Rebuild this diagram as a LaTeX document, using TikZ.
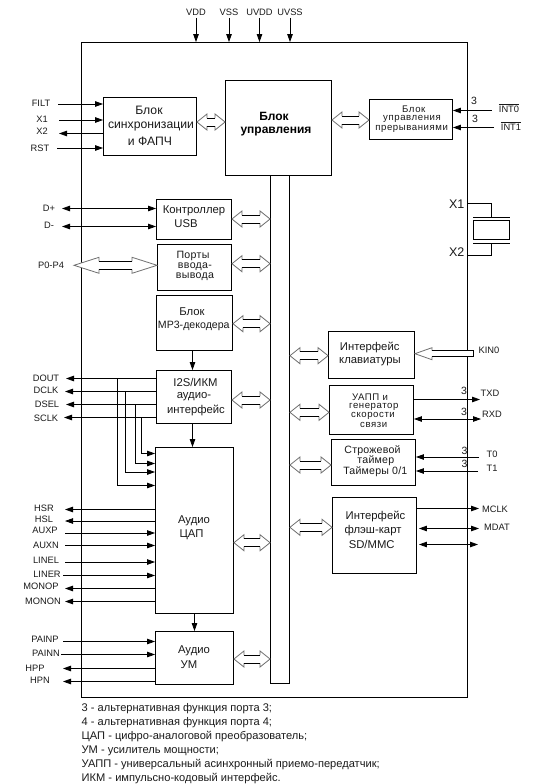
\documentclass[tikz,border=0pt]{standalone}
\usepackage{fontspec}
\setmainfont{Liberation Sans}
\usetikzlibrary{arrows.meta,calc}
\definecolor{ink}{HTML}{1A1A1A}
\definecolor{wedge}{HTML}{707070}
\tikzset{
  boxed/.style={draw=black,line width=0.9pt,fill=white,inner sep=0pt},
  arr/.style={line width=0.8pt,-{Triangle[length=8pt,width=5.5pt]}},
  darr/.style={line width=0.8pt,{Triangle[length=8pt,width=5.5pt]}-{Triangle[length=8pt,width=5.5pt]}},
  wire/.style={line width=0.9pt},
  pinlbl/.style={text=ink,inner sep=0pt,font=\fontsize{9.3}{11}\selectfont},
  blocktxt/.style={text=ink,inner sep=0pt,font=\fontsize{11.3}{13}\selectfont},
  widetxt/.style={text=ink,inner sep=0pt,font=\fontsize{12.2}{14}\selectfont},
  narrowtxt/.style={text=ink,inner sep=0pt,font=\fontsize{10.6}{12}\selectfont},
  tighttxt/.style={text=ink,inner sep=0pt,font=\fontsize{9.6}{10}\selectfont\addfontfeature{LetterSpace=6}},
  boldtxt/.style={text=black,inner sep=0pt,font=\fontsize{12}{14}\selectfont\bfseries},
  numtxt/.style={text=ink,inner sep=0pt,font=\fontsize{10.5}{12}\selectfont},
  xtal/.style={text=ink,inner sep=0pt,font=\fontsize{12.5}{14}\selectfont},
}
% wide double-headed arrow: head length, start, end, y
\newcommand\widearr[4][10]{%
  \coordinate (wa1) at (#2 |- 0,#4);
  \coordinate (wa2) at (#3 |- 0,#4);
  \fill[white] let \p1=(wa1),\p2=(wa2) in (\x1,\y1)--(\x1+#1pt,\y1+8pt)--(\x1+#1pt,\y1+4pt)--(\x2-#1pt,\y1+4pt)--(\x2-#1pt,\y1+8pt)--(\x2,\y1)--(\x2-#1pt,\y1-8pt)--(\x2-#1pt,\y1-4pt)--(\x1+#1pt,\y1-4pt)--(\x1+#1pt,\y1-8pt)--cycle;
  \draw[wedge,line width=0.8pt] let \p1=(wa1),\p2=(wa2) in
    (\x1+#1pt,\y1+4pt)--(\x1+#1pt,\y1+8pt)--(\x1,\y1)--(\x1+#1pt,\y1-8pt)--(\x1+#1pt,\y1-4pt)
    (\x2-#1pt,\y1+4pt)--(\x2-#1pt,\y1+8pt)--(\x2,\y1)--(\x2-#1pt,\y1-8pt)--(\x2-#1pt,\y1-4pt);
  \draw[black,line width=0.9pt] let \p1=(wa1),\p2=(wa2) in
    (\x1+#1pt,\y1+4pt)--(\x2-#1pt,\y1+4pt) (\x1+#1pt,\y1-4pt)--(\x2-#1pt,\y1-4pt);
}
\begin{document}
\begin{tikzpicture}[x=1pt,y=-1pt]
\useasboundingbox (0,0) rectangle (546,784);
\fill[white] (0,0) rectangle (546,784);
% chip outline
\node[boxed,fill=none,minimum width=385.5pt,minimum height=654.5pt] (chip) at (274.25,369.75) {};
% blocks
\foreach \n/\xa/\ya/\xb/\yb in {
  sync/103.5/97.5/196.5/155,
  ctrl/225.5/80.5/331.5/175,
  intc/369.5/99.5/452.5/139.5,
  usb/156.5/199.5/231.5/239,
  ports/157.5/244.5/231.5/290.5,
  mp3/156.5/295.5/232.5/350.5,
  i2s/156.5/370.5/231.5/423.5,
  dac/155.5/447.5/233.5/613.5,
  um/155.5/631.5/233.5/684.5,
  kbd/328.5/331.5/414.5/378.5,
  uart/329.5/385.5/413.5/434.5,
  tmr/331.5/439.5/415.5/485.5,
  flash/332.5/497.5/416.5/573.5,
  bus/270.5/175/289.5/683}
{
  \node[boxed,minimum width={(\xb-\xa)*1pt},minimum height={(\yb-\ya)*1pt}] (\n) at ({(\xa+\xb)/2},{(\ya+\yb)/2}) {};
}
% block texts
\foreach \t/\x/\y [count=\i] in {
  Контроллер/194/210.5, USB/186/224,
  Блок/192/312,
  {I2S/ИКМ}/195.5/382.3, аудио-/194/397, интерфейс/196/410,
  Аудио/194/520.3, ЦАП/191.5/534.7,
  Аудио/194/650.7, УМ/189/664.7,
  Интерфейс/369.7/347.3, клавиатуры/370/361.7,
  Интерфейс/375.5/516.3, флэш-карт/373/531, {SD/MMC}/371.7/544.7}
{
  \node[blocktxt] (txt\i) at (\x,\y) {\t};
}
\foreach \t/\x/\y [count=\i] in {Блок/149/110.5, синхронизации/151/126, и ФАПЧ/150/141}
{
  \node[widetxt] (stx\i) at (\x,\y) {\t};
}
\node[narrowtxt] (mp3t) at (193.8,326.3) {MP3-декодера};
\foreach \t/\x/\y [count=\i] in {
  Блок/413.8/109, управления/412/118.7, прерываниями/411.7/128.5,
  УАПП и/370/397, генератор/373.8/407.3, скорости/373/416, связи/373.7/424.5}
{
  \node[tighttxt] (ttx\i) at (\x,\y) {\t};
}
\foreach \t/\x/\y [count=\i] in {Порты/193/256, ввода-/195/266.7, вывода/195/277}
{
  \node[narrowtxt] (ptx\i) at (\x,\y) {\addfontfeature{LetterSpace=3}\t};
}
\foreach \t/\x/\y [count=\i] in {Строжевой/372.5/450.5, таймер/375.8/461, Таймеры 0{/}1/375.3/471.5}
{
  \node[narrowtxt] (ntx\i) at (\x,\y) {\addfontfeature{LetterSpace=2}\t};
}
\node[boldtxt] (ctrlA) at (274,116) {Блок};
\node[boldtxt] (ctrlB) at (276,132) {управления};
% supply pins
\foreach \n/\t/\x in {vdd/VDD/196,vss/VSS/229,uvdd/UVDD/259.5,uvss/UVSS/290}
{
  \node[pinlbl] (\n) at (\x,12.5) {\t};
  \draw[arr] (\n.south) ++(0,2) -- (\n.south |- chip.north);
}
% inputs on the left
\foreach \t/\lx/\ly/\fx/\y/\b [count=\i] in {
  FILT/41/103/58/104/sync, X1/42/119/59/120/sync, RST/40/148/57/148/sync,
  AUXP/45/530/65/533/dac, AUXN/46/545/65/545.5/dac, LINEL/46/560.5/65/562/dac, LINER/47/574.5/63/575.5/dac,
  PAINP/45/639.7/63/641.5/um, PAINN/46/653.7/61/654.5/um}
{
  \node[pinlbl] (inl\i) at (\lx,\ly) {\t};
  \coordinate (inf\i) at (\fx,\y);
  \draw[arr] (inf\i) -- (\b.west |- inf\i);
}
% outputs on the left
\foreach \t/\lx/\ly/\fx/\y/\b [count=\i] in {
  X2/42/131/59/133.5/sync,
  DOUT/46/378/66/378.5/i2s, DCLK/46/390/65/391.5/i2s, DSEL/47/404/66/404.5/i2s, SCLK/46/418/64/417.5/i2s,
  HSR/44/508/65/509.5/dac, HSL/44/519/65/521/dac, MONOP/41/586.5/65/588.5/dac, MONON/43/601/65/601.5/dac,
  HPP/35/668/63/668.5/um, HPN/40/680.7/63/681.5/um}
{
  \node[pinlbl] (outl\i) at (\lx,\ly) {\t};
  \coordinate (outf\i) at (\fx,\y);
  \draw[arr] (\b.west |- outf\i) -- (outf\i);
}
% USB data
\foreach \t/\lx/\ly/\y [count=\i] in {D+/49/208/208.5,D-/49/225/226.5}
{
  \node[pinlbl] (dl\i) at (\lx,\ly) {\t};
  \coordinate (df\i) at (62,\y);
  \draw[darr] (df\i) -- (usb.west |- df\i);
}
% vertical audio path
\draw[arr] (mp3.south -| 192.5,0) -- (i2s.north -| 192.5,0);
\draw[arr] (i2s.south -| 192.5,0) -- (dac.north -| 192.5,0);
\draw[arr] (dac.south -| 194.5,0) -- (um.north -| 194.5,0);
% I2S branches into the DAC
\foreach \x/\ya/\yb [count=\i] in {117.5/378.5/485.5,125.5/391.5/472,135/404.5/463.5,141.5/417.5/453.5}
{
  \coordinate (tap\i) at (\x,\ya);
  \coordinate (lvl\i) at (\x,\yb);
  \draw[arr] (tap\i) -- (lvl\i) -- (dac.west |- lvl\i);
}
% wide bus arrows
\widearr{sync.east}{ctrl.west}{122}
\widearr{ctrl.east}{intc.west}{120}
\widearr{usb.east}{bus.west}{219}
\widearr{ports.east}{bus.west}{263.7}
\widearr{mp3.east}{bus.west}{323.7}
\widearr{i2s.east}{bus.west}{400}
\widearr{dac.east}{bus.west}{542.7}
\widearr{um.east}{bus.west}{659}
\widearr{bus.east}{kbd.west}{355.7}
\widearr{bus.east}{uart.west}{412.3}
\widearr{bus.east}{tmr.west}{465}
\widearr{bus.east}{flash.west}{527.3}
% P0-P4
\node[pinlbl] (pp) at (51,265) {P0-P4};
\coordinate (ppf) at (74,265.3);
\widearr[25]{ppf}{ports.west}{265.3}
% KIN0
\node[pinlbl] (kin) at (489,350) {KIN0};
\coordinate (kinf) at (473.5,353.7);
\coordinate (kint) at (kbd.east |- kinf);
\fill[white] let \p1=(kinf),\p2=(kint) in (\x1,\y1+3pt)--(\x2+17pt,\y1+3pt)--(\x2+17pt,\y1+6pt)--(\x2,\y1)--(\x2+17pt,\y1-6pt)--(\x2+17pt,\y1-3pt)--(\x1,\y1-3pt)--cycle;
\draw[wedge,line width=0.8pt] let \p1=(kinf),\p2=(kint) in (\x2+17pt,\y1+3pt)--(\x2+17pt,\y1+6pt)--(\x2,\y1)--(\x2+17pt,\y1-6pt)--(\x2+17pt,\y1-3pt);
\draw[black,line width=0.9pt] let \p1=(kinf),\p2=(kint) in (\x2+17pt,\y1+3pt)--(\x1,\y1+3pt)--(\x1,\y1-3pt)--(\x2+17pt,\y1-3pt);
% interrupts
\node[pinlbl] (int0) at (509,108) {$\overline{\mbox{INT0}}$};
\node[pinlbl] (int1) at (511,126) {$\overline{\mbox{INT1}}$};
\node[numtxt] (n1) at (474,101) {3};
\node[numtxt] (n2) at (475,119) {3};
\coordinate (if0) at (491.5,110.5);
\coordinate (if1) at (494,127.5);
\draw[arr] (if0) -- (intc.east |- if0);
\draw[arr] (if1) -- (intc.east |- if1);
% UART
\node[numtxt] (n3) at (464,391) {3};
\node[numtxt] (n4) at (464,412) {3};
\node[pinlbl] (txd) at (490,393.7) {TXD};
\node[pinlbl] (rxd) at (492,414) {RXD};
\coordinate (txf) at (480,399.5);
\coordinate (rxf) at (481,419);
\draw[arr] (uart.east |- txf) -- (txf);
\draw[darr] (uart.east |- rxf) -- (rxf);
% timers
\node[numtxt] (n5) at (464.5,451) {3};
\node[numtxt] (n6) at (464.5,464.3) {3};
\node[pinlbl] (t0) at (492,454.7) {T0};
\node[pinlbl] (t1) at (492,468.7) {T1};
\coordinate (t0f) at (479,457);
\coordinate (t1f) at (478,471);
\draw[arr] (t0f) -- (tmr.east |- t0f);
\draw[arr] (t1f) -- (tmr.east |- t1f);
% flash
\node[pinlbl] (mclk) at (495,509.7) {MCLK};
\node[pinlbl] (mdat) at (497,527.7) {MDAT};
\coordinate (mcf) at (479,508.5);
\coordinate (mdf) at (479,528.5);
\coordinate (mef) at (478,544.5);
\draw[arr] (flash.east |- mcf) -- (mcf);
\draw[darr] ([xshift=2pt]flash.east |- mdf) -- (mdf);
\draw[darr] ([xshift=2pt]flash.east |- mef) -- (mef);
% crystal
\node[xtal] (xa) at (456.7,203.7) {X1};
\node[xtal] (xb) at (456.7,252.3) {X2};
\node[boxed,minimum width=36.5pt,minimum height=19.5pt] (qz) at (491.5,230) {};
\coordinate (capa) at (491.5,217.5);
\coordinate (capb) at (491.5,243.5);
\draw[wire] ([xshift=-18.2pt]capa) -- ([xshift=18.2pt]capa);
\draw[wire] ([xshift=-18.2pt]capb) -- ([xshift=18.2pt]capb);
\draw[wire] (chip.east |- 0,203.5) -| (capa);
\draw[wire] (chip.east |- 0,255.5) -| (capb);
% notes
\node[anchor=north west,align=left,text=ink,inner sep=0pt,font=\fontsize{11.1}{14}\selectfont] (notes) at (81.5,703.3) {3 - альтернативная функция порта 3;\\
4 - альтернативная функция порта 4;\\
ЦАП - цифро-аналоговой преобразователь;\\
УМ - усилитель мощности;\\
УАПП - универсальный асинхронный приемо-передатчик;\\
ИКМ - импульсно-кодовый интерфейс.};
\end{tikzpicture}
\end{document}
